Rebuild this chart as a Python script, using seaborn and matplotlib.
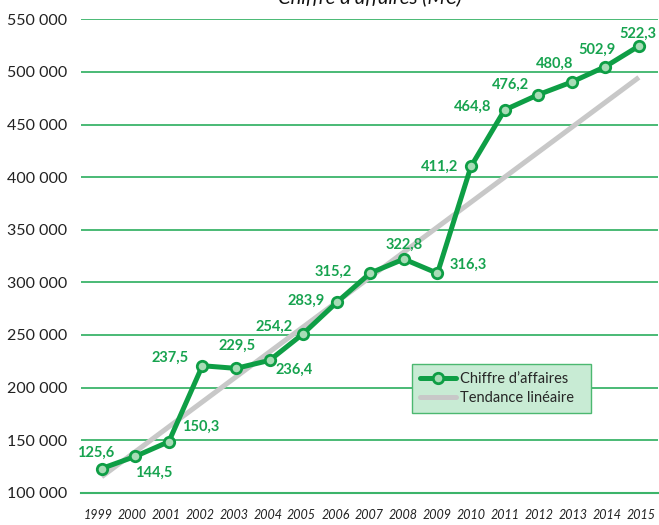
import numpy as np
import pandas as pd
import matplotlib
matplotlib.use("Agg")
import matplotlib.pyplot as plt
import seaborn as sns
from matplotlib.lines import Line2D
from matplotlib.ticker import FuncFormatter

# Values
years = ["1999", "2000", "2001", "2002", "2003", "2004", "2005", "2006", "2007",
         "2008", "2009", "2010", "2011", "2012", "2013", "2014", "2015"]
ca = [123000, 134500, 148500, 220700, 218200, 225800, 251100, 280900, 308800,
      322100, 308600, 410200, 463800, 478300, 490400, 505000, 524600]
labels = ["125,6", "144,5", "150,3", "237,5", "229,5", "236,4", "254,2", "283,9", "315,2",
          "322,8", "316,3", "411,2", "464,8", "476,2", "480,8", "502,9", "522,3"]
trend_ends = [115200, 494800]

# label offsets in points (dx, dy)
offsets = [(-4, 11), (13, -12), (23, 11), (-23, 6), (1, 16), (18, -7), (-21, 5), (-22, 1),
           (-27, 1), (0, 10), (22, 6), (-23, 0), (-23, 2), (-20, 7), (-12, 13), (-6, 12), (-1, 9)]

GREEN = "#0e9e45"
GRID = "#3cb46a"
LABEL = "#17a34f"

sns.set_style("white")
plt.rcParams["font.family"] = ["Lato", "DejaVu Sans"]

df = pd.DataFrame({"pos": np.arange(len(years)), "ca": ca})
trend = pd.DataFrame({"pos": [0, len(years) - 1], "val": trend_ends})

fig = plt.figure(figsize=(6.59, 5.25), dpi=100)
ax = fig.add_axes([0.1229, 0.0615, 0.8756, 0.9017])

x0, x1 = -0.616, 16.57
ax.set_xlim(x0, x1)
ax.set_ylim(100000, 550000)

ax.set_yticks(np.arange(100000, 550001, 50000))
ax.yaxis.set_major_formatter(FuncFormatter(lambda v, p: f"{int(v):,}".replace(",", " ")))
ax.grid(axis="y", color=GRID, linewidth=1.3)
ax.set_axisbelow(True)

sns.lineplot(data=trend, x="pos", y="val", ax=ax, color="#c8c8c8", linewidth=3.6,
             solid_capstyle="butt", legend=False, zorder=2)
sns.lineplot(data=df, x="pos", y="ca", ax=ax, color=GREEN, linewidth=3.6,
             marker="o", markersize=7.5, markerfacecolor="#a8dcb6",
             markeredgecolor=GREEN, markeredgewidth=2, legend=False, zorder=3)

for i, (lab, (dx, dy)) in enumerate(zip(labels, offsets)):
    ax.annotate(lab, (i, ca[i]), xytext=(dx, dy), textcoords="offset points",
                ha="center", va="center", color=LABEL, fontsize=10.5, fontweight="bold")

bounds = np.linspace(x0, x1, len(years) + 1)
ax.set_xticks((bounds[:-1] + bounds[1:]) / 2)
ax.set_xticklabels(years, fontsize=9, style="italic", color="#222222")
ax.set_xticks(bounds, minor=True)
ax.tick_params(axis="x", which="major", length=0, pad=12)
ax.tick_params(axis="x", which="minor", direction="in", length=5, color=GRID, width=1.2)
ax.tick_params(axis="y", length=0, labelsize=11.5, labelcolor="#222222", pad=10)

for s in ["top", "right", "left"]:
    ax.spines[s].set_visible(False)
ax.spines["bottom"].set_color(GRID)
ax.spines["bottom"].set_linewidth(1.5)
ax.set_xlabel("")
ax.set_ylabel("")

handles = [
    Line2D([], [], color=GREEN, linewidth=3.6, marker="o", markersize=7.5,
           markerfacecolor="#a8dcb6", markeredgecolor=GREEN, markeredgewidth=2),
    Line2D([], [], color="#c8c8c8", linewidth=3.6),
]
leg = ax.legend(handles, ["Chiffre d\u2019affaires", "Tendance lin\u00e9aire"],
                loc="lower left", bbox_to_anchor=(0.573, 0.169, 0.31, 0.095), mode="expand",
                borderaxespad=0, fontsize=10.5, frameon=True, fancybox=False,
                handlelength=2.5, handletextpad=0.3, labelspacing=0.3, borderpad=0.55)
leg.get_frame().set_facecolor("#c8ebd4")
leg.get_frame().set_edgecolor("#4cb870")
leg.get_frame().set_alpha(1)

fig.text(0.561, 1 - 3 / 525, "Chiffre d\u2019affaires (M\u20ac)", ha="center", va="baseline",
         fontsize=14.5, style="italic", color="#111111")

fig.savefig("out.png", dpi=100)
